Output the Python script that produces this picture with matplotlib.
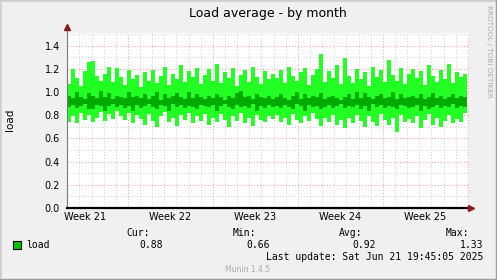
import numpy as np
import matplotlib
matplotlib.use("Agg")
import matplotlib.pyplot as plt
from matplotlib.lines import Line2D

# load samples, one every ~8 hours
hi = [1.07, 1.20, 1.12, 1.05, 1.18, 1.26, 1.27, 1.14, 1.10, 1.16, 1.22, 1.09, 1.21, 1.13, 1.06, 1.19, 1.11, 1.15,
      1.04, 1.17, 1.10, 1.19, 1.08, 1.14, 1.22, 1.06, 1.16, 1.11, 1.23, 1.09, 1.18, 1.13, 1.21, 1.07, 1.15,
      1.20, 1.10, 1.24, 1.08, 1.17, 1.12, 1.21, 1.05, 1.15, 1.19, 1.09, 1.22, 1.13, 1.07, 1.18, 1.11, 1.16,
      1.12, 1.19, 1.08, 1.22, 1.14, 1.10, 1.17, 1.21, 1.06, 1.15, 1.20, 1.33, 1.09, 1.18, 1.12, 1.23, 1.07,
      1.29, 1.14, 1.08, 1.20, 1.11, 1.17, 1.05, 1.22, 1.13, 1.19, 1.09, 1.28, 1.15, 1.10, 1.21, 1.07, 1.16,
      1.20, 1.12, 1.18, 1.06, 1.23, 1.14, 1.09, 1.19, 1.11, 1.24, 1.08, 1.17, 1.13, 1.16]
lo = [0.74, 0.79, 0.73, 0.82, 0.76, 0.80, 0.74, 0.78, 0.83, 0.75, 0.81, 0.77, 0.84, 0.79, 0.76, 0.82, 0.73, 0.80,
      0.77, 0.72, 0.81, 0.75, 0.70, 0.79, 0.83, 0.74, 0.78, 0.71, 0.80, 0.76, 0.82, 0.73, 0.79, 0.75, 0.81,
      0.72, 0.78, 0.74, 0.81, 0.76, 0.70, 0.79, 0.75, 0.82, 0.73, 0.78, 0.71, 0.80, 0.76, 0.74, 0.79, 0.77,
      0.80, 0.74, 0.78, 0.72, 0.81, 0.76, 0.73, 0.79, 0.75, 0.82, 0.77, 0.71, 0.78, 0.74, 0.80, 0.72, 0.76,
      0.69, 0.78, 0.73, 0.80, 0.75, 0.70, 0.79, 0.74, 0.71, 0.81, 0.76, 0.72, 0.78, 0.66, 0.80, 0.74, 0.77,
      0.73, 0.79, 0.69, 0.76, 0.81, 0.72, 0.78, 0.70, 0.75, 0.80, 0.73, 0.77, 0.74, 0.82]
avg_hi = [0.97, 0.95, 1.00, 0.96, 0.94, 0.99, 0.97, 0.95, 1.01, 0.96, 0.99, 0.94, 0.97, 0.96, 0.95, 1.00, 0.96, 0.97,
          0.95, 0.98, 0.94, 0.97, 1.00, 0.93, 0.98, 0.95, 0.97, 0.99, 0.96, 0.94, 1.00, 0.95, 0.98, 0.96, 0.94,
          0.97, 0.95, 0.98, 0.96, 0.93, 0.97, 0.95, 0.99, 1.01, 0.96, 0.97, 0.94, 0.98, 0.96, 0.95, 0.97, 0.94,
          0.96, 0.98, 0.95, 0.93, 0.97, 1.00, 0.94, 0.98, 0.95, 0.97, 0.96, 0.99, 0.94, 0.96, 0.97, 0.95, 0.93,
          0.96, 0.98, 0.94, 1.00, 0.95, 0.99, 0.96, 0.94, 0.97, 0.98, 0.95, 0.96, 1.00, 0.94, 0.98, 0.95, 0.96,
          0.97, 0.95, 0.98, 0.94, 0.96, 0.99, 0.95, 0.97, 0.94, 0.96, 0.98, 0.95, 0.97, 0.96]
avg_lo = [0.87, 0.89, 0.86, 0.88, 0.90, 0.85, 0.85, 0.89, 0.88, 0.84, 0.88, 0.90, 0.87, 0.89, 0.86, 0.88, 0.84, 0.89,
          0.86, 0.88, 0.90, 0.87, 0.85, 0.89, 0.88, 0.84, 0.90, 0.87, 0.89, 0.86, 0.88, 0.87, 0.85, 0.89, 0.88,
          0.87, 0.89, 0.84, 0.88, 0.90, 0.87, 0.85, 0.89, 0.87, 0.88, 0.86, 0.90, 0.84, 0.88, 0.86, 0.89, 0.87,
          0.88, 0.86, 0.89, 0.87, 0.85, 0.90, 0.88, 0.84, 0.89, 0.87, 0.88, 0.85, 0.87, 0.89, 0.86, 0.88, 0.90,
          0.86, 0.88, 0.87, 0.89, 0.85, 0.88, 0.84, 0.90, 0.87, 0.89, 0.86, 0.88, 0.87, 0.85, 0.89, 0.88, 0.86,
          0.87, 0.89, 0.84, 0.88, 0.85, 0.87, 0.89, 0.86, 0.88, 0.87, 0.90, 0.86, 0.88, 0.87]

week_labels = ["Week 21", "Week 22", "Week 23", "Week 24", "Week 25"]
stats_names = ["Cur:", "Min:", "Avg:", "Max:"]
stats_values = ["0.88", "0.66", "0.92", "1.33"]
last_update = "Last update: Sat Jun 21 19:45:05 2025"

# time in days relative to the start of week 22
t0, step = -5.0, 0.3295
ts = t0 + step * np.arange(len(hi) + 1)
hi_s = np.append(hi, hi[-1])
lo_s = np.append(lo, lo[-1])
ahi_s = np.append(avg_hi, avg_hi[-1])
alo_s = np.append(avg_lo, avg_lo[-1])

W, H = 497, 280
fig = plt.figure(figsize=(W / 100, H / 100), dpi=100)
fig.patch.set_facecolor("#f0f0f0")


def px(x, y):
    return x / W, 1 - y / H


ax = fig.add_axes([67 / W, 1 - 208 / H, 402 / W, 175 / H])
ax.set_facecolor("white")
xmin, xmax = -5.02, 28.1
ymax = 1.51
ax.set_xlim(xmin, xmax)
ax.set_ylim(0, ymax)
for s in ax.spines.values():
    s.set_visible(False)

# grid
for d in range(-5, 29):
    major = d % 7 == 0
    ax.axvline(d, color="#f29a9a" if major else "#cccccc", lw=0.7,
               ls=(0, (1, 2)), zorder=1)
for k in range(1, 16):
    v = k / 10
    major = k % 2 == 0
    ax.axhline(v, color="#f29a9a" if major else "#cccccc", lw=0.7,
               ls=(0, (1, 2)), zorder=1)

# data
ax.fill_between(ts, lo_s, hi_s, step="post", color="#22ff22", lw=0, zorder=2)
ax.fill_between(ts, alo_s, ahi_s, step="post", color="#00aa00", lw=0, zorder=3)

# axes lines + arrows
ax.plot([xmin, xmin], [0, 1.555], color="#777777", lw=0.8, clip_on=False, zorder=4)
ax.plot([xmin, 28.2], [0, 0], color="black", lw=1.6, clip_on=False, zorder=4)
ax.plot([xmin], [1.56], marker="^", color="#8b1a1a", ms=4, clip_on=False, zorder=5)
ax.plot([28.3], [0], marker=">", color="#8b1a1a", ms=4, clip_on=False, zorder=5)

ax.set_yticks([0, 0.2, 0.4, 0.6, 0.8, 1.0, 1.2, 1.4])
ax.set_yticklabels(["%.1f" % v for v in ax.get_yticks()])
ax.set_xticks([-3.5, 3.5, 10.5, 17.5, 24.5])
ax.set_xticklabels(week_labels)
ax.tick_params(length=0, labelsize=7, colors="black")
ax.tick_params(axis="y", pad=5)
ax.tick_params(axis="x", pad=3)

# texts
fig.text(*px(268, 14), "Load average - by month", ha="center", va="center", fontsize=9)
fig.text(*px(10, 120), "load", rotation=90, ha="center", va="center", fontsize=7.5)
fig.text(*px(489, 5), "RRDTOOL / TOBI OETIKER", rotation=270, ha="center", va="top",
         fontsize=5.2, color="#aaaaaa")

mono = "DejaVu Sans Mono"
name_x = [150, 256, 362, 469]
val_x = [163, 270, 376, 483]
for nm, xr in zip(stats_names, name_x):
    fig.text(*px(xr, 233), nm, ha="right", va="center", fontsize=7, family=mono)
for vv, xr in zip(stats_values, val_x):
    fig.text(*px(xr, 245), vv, ha="right", va="center", fontsize=7, family=mono)
fig.text(*px(483, 257.5), last_update, ha="right", va="center", fontsize=7, family=mono)
fig.text(*px(26, 245), "load", ha="left", va="center", fontsize=7, family=mono)
fig.patches.append(plt.Rectangle(px(13, 249), 8 / W, 8 / H, transform=fig.transFigure,
                                 facecolor="#00cc00", edgecolor="black", lw=0.8))
fig.text(*px(248, 269), "Munin 1.4.5", ha="center", va="center", fontsize=5.5, color="#aaaaaa")

# 3d border
fig.add_artist(Line2D([0, 1], [1, 1], transform=fig.transFigure, color="#cfcfcf", lw=2))
fig.add_artist(Line2D([0, 0], [0, 1], transform=fig.transFigure, color="#cfcfcf", lw=2))
fig.add_artist(Line2D([0, 1], [0, 0], transform=fig.transFigure, color="#9e9e9e", lw=2.5))
fig.add_artist(Line2D([1, 1], [0, 1], transform=fig.transFigure, color="#9e9e9e", lw=2.5))

fig.savefig("out.png", dpi=100, facecolor=fig.get_facecolor())
